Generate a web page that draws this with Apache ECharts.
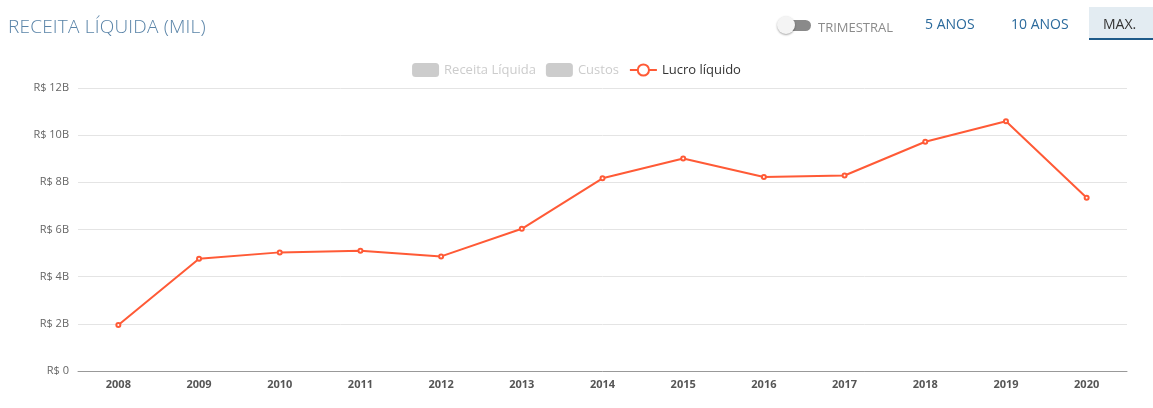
<!DOCTYPE html>
<html>
<head>
<meta charset="utf-8">
<script src="https://cdn.jsdelivr.net/npm/echarts@6/dist/echarts.min.js"></script>
<style>
    html, body { margin: 0; padding: 0; background: #fff; font-family: 'Open Sans', sans-serif; }
    #wrap { position: relative; width: 1153px; height: 408px; }
    #chart-container { position: absolute; left: 0; top: 0; width: 1153px; height: 408px; }
    .title { position: absolute; left: 8px; top: 13px; font-size: 19px; color: #5a84a8; font-weight: 300; letter-spacing: 0.2px; }
    .toggle { position: absolute; left: 777px; top: 16px; width: 34px; height: 18px; }
    .toggle .track { position: absolute; left: 6px; top: 4px; width: 28px; height: 11px; border-radius: 6px; background: #8a8a8a; }
    .toggle .knob { position: absolute; left: 0; top: 0; width: 18px; height: 18px; border-radius: 50%; background: #f4f4f4; box-shadow: 0 1px 2px rgba(0,0,0,0.35); }
    .tri { position: absolute; left: 818px; top: 18px; font-size: 13px; color: #8b8b8b; }
    .btn { position: absolute; top: 14px; font-size: 14px; color: #2b6a9c; }
    .max { position: absolute; left: 1089px; top: 7px; width: 64px; height: 33px; background: #e3ecf2; border-bottom: 2px solid #1f5b8a; box-sizing: border-box; }
    .max span { position: absolute; left: 14px; top: 7px; font-size: 14px; color: #333; }
</style>
</head>
<body>
<div id="wrap">
    <div id="chart-container"></div>
    <div class="title">RECEITA LÍQUIDA (MIL)</div>
    <div class="toggle"><div class="track"></div><div class="knob"></div></div>
    <div class="tri">TRIMESTRAL</div>
    <div class="btn" style="left:925px">5 ANOS</div>
    <div class="btn" style="left:1011px">10 ANOS</div>
    <div class="max"><span>MAX.</span></div>
</div>
<script>
// dados
const anos = ['2008', '2009', '2010', '2011', '2012', '2013', '2014', '2015', '2016', '2017', '2018', '2019', '2020'];
// lucro líquido em bilhões (R$)
const lucroLiquido = [1.95, 4.76, 5.03, 5.10, 4.86, 6.03, 8.17, 9.01, 8.23, 8.29, 9.72, 10.59, 7.35];
// séries ocultas na legenda
const receitaLiquida = [];
const custos = [];

const chart = echarts.init(document.getElementById('chart-container'));

const option = {
    animation: false,
    legend: {
        top: 58,
        left: 'center',
        itemGap: 10,
        itemWidth: 27,
        itemHeight: 14,
        selected: { 'Receita Líquida': false, 'Custos': false },
        inactiveColor: '#ccc',
        textStyle: { fontSize: 13, color: '#333', fontFamily: 'Open Sans' },
        data: [
            { name: 'Receita Líquida', icon: 'roundRect' },
            { name: 'Custos', icon: 'roundRect' },
            { name: 'Lucro líquido' }
        ]
    },
    grid: { left: 78, right: 26, top: 88, bottom: 37 },
    xAxis: {
        type: 'category',
        data: anos,
        axisLine: { lineStyle: { color: '#999' } },
        axisTick: { lineStyle: { color: '#999' }, length: 5 },
        axisLabel: { color: '#555', fontWeight: 'bold', fontSize: 11, margin: 8, fontFamily: 'Open Sans' }
    },
    yAxis: {
        type: 'value',
        min: 0,
        max: 12,
        interval: 2,
        axisLine: { show: false },
        axisTick: { show: false },
        axisLabel: {
            color: '#666',
            fontSize: 11,
            margin: 9,
            fontFamily: 'Open Sans',
            formatter: v => v === 0 ? 'R$ 0' : 'R$ ' + v + 'B'
        },
        splitLine: { lineStyle: { color: '#e4e4e4' } }
    },
    series: [
        { name: 'Receita Líquida', type: 'bar', data: receitaLiquida, itemStyle: { color: '#4a7ea8' } },
        { name: 'Custos', type: 'bar', data: custos, itemStyle: { color: '#9ab' } },
        {
            name: 'Lucro líquido',
            type: 'line',
            data: lucroLiquido,
            symbol: 'emptyCircle',
            symbolSize: 4,
            lineStyle: { color: '#ff5a36', width: 2 },
            itemStyle: { color: '#ff5a36', borderWidth: 1 }
        }
    ]
};

chart.setOption(option);
</script>
</body>
</html>
